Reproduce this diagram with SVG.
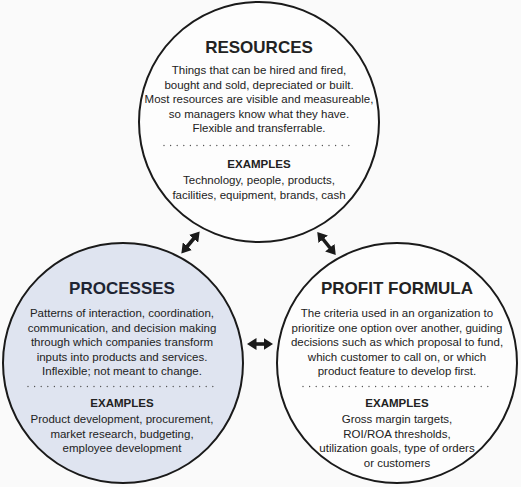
<svg xmlns="http://www.w3.org/2000/svg" width="521" height="487" viewBox="0 0 521 487">
<style>
text{font-family:"Liberation Sans",Arial,sans-serif;text-anchor:middle;fill:#222}
.t{font-size:17px;font-weight:bold}
.b{font-size:11.5px}
.e{font-size:11.5px;font-weight:bold}
.c{stroke:#1a1a1a;stroke-width:2}
.d{stroke:#555;stroke-width:1.4;stroke-linecap:round;stroke-dasharray:0 6.6}
.a{stroke:#1a1a1a;stroke-width:3.6;fill:none;marker-start:url(#h);marker-end:url(#h)}
</style>
<defs>
<marker id="h" markerUnits="userSpaceOnUse" markerWidth="10" markerHeight="12" refX="3" refY="6" orient="auto-start-reverse" viewBox="0 0 10 12">
<path d="M0,0 L9.5,6 L0,12 z" fill="#1a1a1a"/>
</marker>
</defs>
<rect width="521" height="487" fill="#fafafa"/>
<g id="resources">
<circle class="c" cx="259" cy="122" r="120" fill="#fdfdfd"/>
<text class="t" x="259" y="53">RESOURCES</text>
<text class="b" x="259" y="74">Things that can be hired and fired,</text>
<text class="b" x="259" y="88.5">bought and sold, depreciated or built.</text>
<text class="b" x="259" y="103">Most resources are visible and measureable,</text>
<text class="b" x="259" y="117.5">so managers know what they have.</text>
<text class="b" x="259" y="132">Flexible and transferrable.</text>
<line class="d" x1="164" y1="145.5" x2="353" y2="145.5"/>
<text class="e" x="259" y="168">EXAMPLES</text>
<text class="b" x="259" y="184">Technology, people, products,</text>
<text class="b" x="259" y="198.5">facilities, equipment, brands, cash</text>
</g>
<g id="processes">
<circle class="c" cx="123" cy="363" r="120" fill="#dfe4f0"/>
<text class="t" x="122" y="294" style="fill:#1e2433">PROCESSES</text>
<text class="b" x="122" y="317">Patterns of interaction, coordination,</text>
<text class="b" x="122" y="331.5">communication, and decision making</text>
<text class="b" x="122" y="346">through which companies transform</text>
<text class="b" x="122" y="360.5">inputs into products and services.</text>
<text class="b" x="122" y="375">Inflexible; not meant to change.</text>
<line class="d" x1="28" y1="386.5" x2="217" y2="386.5"/>
<text class="e" x="122" y="407">EXAMPLES</text>
<text class="b" x="122" y="423">Product development, procurement,</text>
<text class="b" x="122" y="437.5">market research, budgeting,</text>
<text class="b" x="122" y="452">employee development</text>
</g>
<g id="profit-formula">
<circle class="c" cx="397" cy="363" r="120" fill="#fdfdfd"/>
<text class="t" x="397" y="294">PROFIT FORMULA</text>
<text class="b" x="397" y="317">The criteria used in an organization to</text>
<text class="b" x="397" y="331.5">prioritize one option over another, guiding</text>
<text class="b" x="397" y="346">decisions such as which proposal to fund,</text>
<text class="b" x="397" y="360.5">which customer to call on, or which</text>
<text class="b" x="397" y="375">product feature to develop first.</text>
<line class="d" x1="303" y1="386.5" x2="492" y2="386.5"/>
<text class="e" x="397" y="407">EXAMPLES</text>
<text class="b" x="397" y="423">Gross margin targets,</text>
<text class="b" x="397" y="437.5">ROI/ROA thresholds,</text>
<text class="b" x="397" y="452">utilization goals, type of orders</text>
<text class="b" x="397" y="466.5">or customers</text>
</g>
<g id="connectors">
<line class="a" x1="185.5" y1="248.5" x2="195.5" y2="236.5"/>
<line class="a" x1="321.3" y1="237" x2="331.7" y2="250"/>
<line class="a" x1="253.5" y1="344" x2="266.5" y2="344"/>
</g>
</svg>
